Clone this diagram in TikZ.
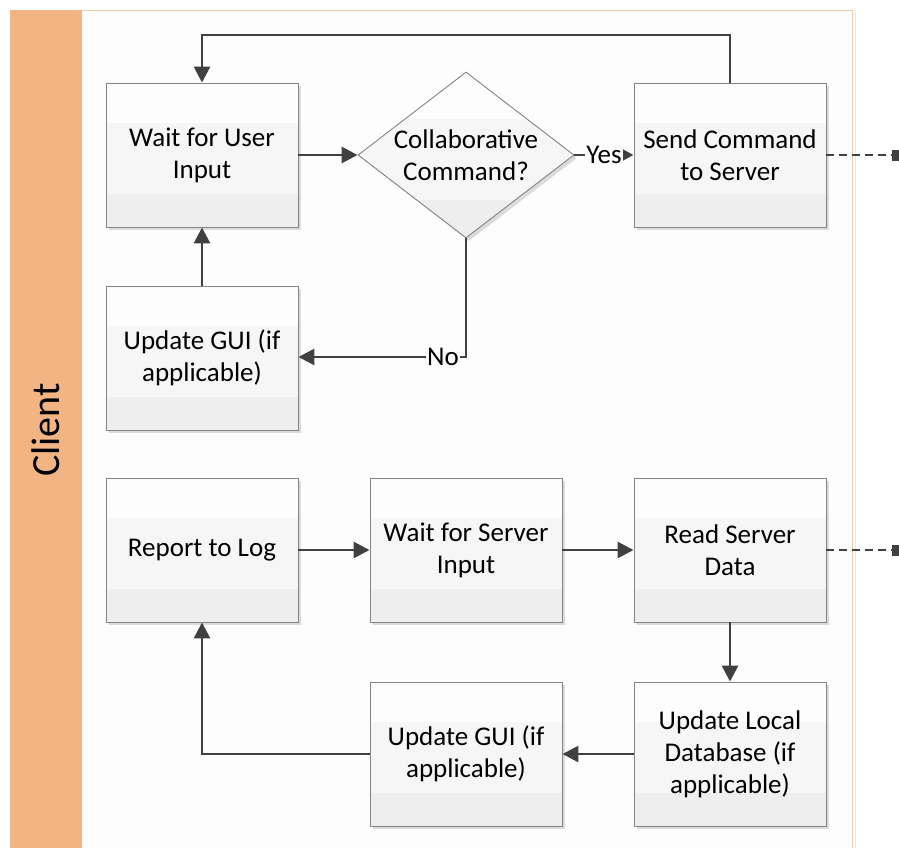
\documentclass[tikz,border=0pt]{standalone}
\usepackage{fontspec}
\setmainfont{Carlito}
\usetikzlibrary{arrows.meta,calc,shadows,shapes.geometric}
\definecolor{bandorange}{HTML}{F2B483}
\definecolor{panelline}{HTML}{F6CBA8}
\definecolor{panelfill}{HTML}{FDFDFD}
\definecolor{boxtop}{HTML}{FDFDFD}
\definecolor{boxmid}{HTML}{F6F6F6}
\definecolor{boxbot}{HTML}{EEEEEE}
\definecolor{boxline}{HTML}{848484}
\definecolor{arrline}{HTML}{404040}
\tikzset{
  bands/.style={path picture={
    \fill[boxmid] (path picture bounding box.north west) rectangle (path picture bounding box.south east);
    \fill[boxtop] (path picture bounding box.north west) rectangle ($(path picture bounding box.north east)!0.28!(path picture bounding box.south east)$);
    \fill[boxbot] ($(path picture bounding box.north west)!0.77!(path picture bounding box.south west)$) rectangle (path picture bounding box.south east);
  }},
  procbox/.style={rectangle, draw=boxline, line width=0.9pt, bands,
    minimum width=192pt, minimum height=144pt, inner sep=0pt, align=center,
    font=\fontsize{27}{32}\selectfont,
    drop shadow={shadow xshift=3pt, shadow yshift=-3pt, fill=black!14, opacity=1}},
  decbox/.style={diamond, draw=boxline, line width=0.9pt, bands,
    minimum width=216pt, minimum height=166pt, inner sep=0pt,
    drop shadow={shadow xshift=3pt, shadow yshift=-3pt, fill=black!14, opacity=1}},
  txt/.style={align=center, font=\fontsize{27}{32}\selectfont, inner sep=0pt},
  arr/.style={draw=arrline, line width=2.8pt, -{Triangle[length=16pt,width=16pt]}},
  smallarr/.style={draw=arrline, line width=2.8pt, -{Triangle[length=11pt,width=11pt]}},
  link/.style={draw=arrline, line width=2.8pt, dash pattern=on 8pt off 5pt, -{Square[length=7pt,width=11pt]}},
  lbl/.style={fill=panelfill, inner sep=1pt, font=\fontsize{27}{32}\selectfont}
}
\begin{document}
\begin{tikzpicture}[x=1pt,y=-1pt]
\useasboundingbox (0,0) rectangle (899,848);
\fill[white] (0,0) rectangle (899,848);
% lane
\fill[bandorange] (10,10) rectangle (82,848);
\fill[panelfill] (82,10) rectangle (852,848);
\draw[panelline, line width=1pt] (82,10.5) -- (852,10.5) -- (852,848);
\draw[black!8, line width=1pt] (855,10) -- (855,848);
\node[rotate=90, font=\fontsize{40}{48}\selectfont] (client) at (46,430) {Client};
% nodes
\node[procbox] (wui) at (202,155) {Wait for User\\Input};
\node[decbox] (dec) at (466,155) {};
\node[txt] (dectxt) at (466,155) {Collaborative\\Command?};
\node[procbox] (sc) at (730,155) {Send Command\\to Server};
\node[procbox] (ugt) at (202,358) {Update GUI (if\\applicable)};
\node[procbox] (rl) at (202,550) {Report to Log};
\node[procbox] (wsi) at (466,550) {Wait for Server\\Input};
\node[procbox] (rsd) at (730,550) {Read Server\\Data};
\node[procbox] (ugb) at (466,754) {Update GUI (if\\applicable)};
\node[procbox] (uld) at (730,754) {Update Local\\Database (if\\applicable)};
\coordinate (top) at (466,35);
\coordinate (noc) at (466,357);
\coordinate (out1) at (899,155);
\coordinate (out2) at (899,550);
% connectors
\draw[arr] (sc.north) -- (sc.north |- top) -| (wui.north);
\draw[arr] (wui.east) -- (dec.west);
\draw[smallarr] (dec.east) -- node[lbl] (yes) {Yes} (sc.west);
\draw[arr] (dec.south) -- (noc) -- (ugt.east |- noc);
\node[lbl] (no) at (443,357) {No};
\draw[arr] (ugt.north) -- (wui.south);
\draw[link] (sc.east) -- (out1);
\draw[arr] (rl.east) -- (wsi.west);
\draw[arr] (wsi.east) -- (rsd.west);
\draw[link] (rsd.east) -- (out2);
\draw[arr] (rsd.south) -- (uld.north);
\draw[arr] (uld.west) -- (ugb.east);
\draw[arr] (ugb.west) -| (rl.south);
\end{tikzpicture}
\end{document}
